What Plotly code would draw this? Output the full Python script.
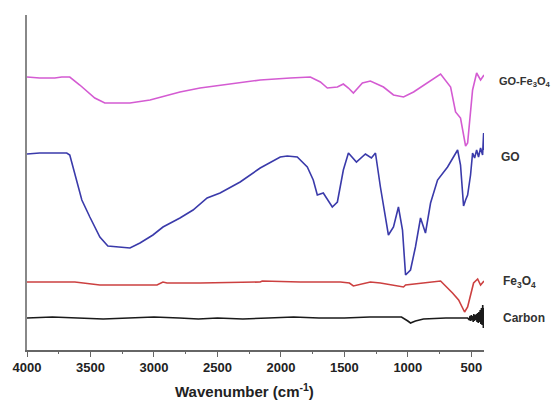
import plotly.graph_objects as go

# GO-Fe3O4 (magenta)
gofe_x = [4000, 3900, 3781, 3726, 3663, 3584, 3466, 3387, 3308, 3189, 3031, 2913, 2795, 2637, 2400,
          2163, 1926, 1768, 1689, 1634, 1555, 1508, 1468, 1429, 1358, 1295, 1192, 1113, 1034, 955,
          742, 719, 663, 624, 585, 545, 529, 490, 458, 427, 400]
gofe_y = [273, 272, 272, 273, 273, 265, 252, 247, 247, 247, 250, 254, 258, 262, 266,
          270, 272, 273, 268, 262, 263, 266, 262, 257, 267, 269, 263, 255, 253, 258,
          276, 272, 263, 238, 232, 204, 207, 260, 277, 270, 275]

# GO (blue)
go_x = [4000, 3900, 3781, 3687, 3663, 3623, 3568, 3505, 3426, 3363, 3268, 3189, 3110, 3008, 2929,
        2795, 2692, 2581, 2479, 2321, 2163, 2005, 1950, 1871, 1792, 1745, 1713, 1666, 1595, 1555,
        1508, 1468, 1405, 1334, 1287, 1255, 1216, 1153, 1113, 1074, 1042, 1018, 979, 940, 900,
        861, 821, 766, 687, 640, 608, 585, 561, 545, 529, 506, 490, 474, 458, 443, 427, 411, 403, 400]
go_y = [196, 197, 197, 197, 195, 177, 150, 133, 113, 104, 103, 102, 107, 115, 123,
        132, 140, 152, 157, 168, 182, 193, 194, 193, 183, 170, 155, 157, 143, 148,
        180, 197, 188, 196, 192, 197, 163, 115, 123, 143, 120, 75, 80, 103, 132,
        117, 147, 170, 183, 193, 200, 185, 144, 150, 155, 175, 197, 192, 200, 193, 202, 195, 217, 200]

# Fe3O4 (red)
fe_x = [4000, 3623, 3426, 2976, 2929, 2897, 2637, 2163, 2147, 1847, 1531, 1460, 1429, 1295, 1216,
        1034, 1018, 742, 648, 600, 553, 529, 482, 450, 427, 400]
fe_y = [68, 68, 65, 65, 68, 67, 67, 68, 69, 68, 68, 67, 64, 68, 67,
        63, 65, 69, 57, 50, 38, 43, 67, 71, 65, 69]

# Carbon (black)
c_x = [4000, 3800, 3600, 3400, 3200, 3000, 2800, 2650, 2500, 2300, 2100, 1900, 1700, 1500, 1300,
       1100, 1050, 1000, 979, 940, 877, 700, 529, 515, 510, 505, 500, 495, 490, 485, 480, 475,
       470, 465, 460, 455, 450, 445, 440, 435, 430, 425, 420, 415, 410, 405, 403, 400]
c_y = [32, 33, 32, 31, 32, 33, 32, 31, 32, 31, 32, 33, 32, 32, 33,
       33, 33, 29, 27, 29, 31, 32, 32, 30, 34, 29, 35, 30, 34, 28, 36, 29,
       35, 30, 36, 28, 37, 27, 38, 28, 40, 26, 42, 25, 45, 22, 42, 32]

tick_vals = [4000, 3500, 3000, 2500, 2000, 1500, 1000, 500]
tick_text = ["4000", "3500", "3000", "2500", "2000", "1500", "1000", "500"]
minor_vals = [3750, 3250, 2750, 2250, 1750, 1250, 750]

series = [
    (gofe_x, gofe_y, "#d45bd2", "GO-Fe<sub>3</sub>O<sub>4</sub>"),
    (go_x, go_y, "#3a3aaa", "GO"),
    (fe_x, fe_y, "#cc4040", "Fe<sub>3</sub>O<sub>4</sub>"),
    (c_x, c_y, "#1a1a1a", "Carbon"),
]

fig = go.Figure()
for xs, ys, col, name in series:
    fig.add_trace(go.Scatter(x=xs, y=ys, mode="lines", line=dict(color=col, width=1.6),
                             name=name, showlegend=False))

label_pos = [("<b>GO-Fe<sub>3</sub>O<sub>4</sub></b>", 268, 1.028, 11),
             ("<b>GO</b>", 193, 1.032, 12),
             ("<b>Fe<sub>3</sub>O<sub>4</sub></b>", 68, 1.038, 12),
             ("<b>Carbon</b>", 32, 1.038, 12)]
for txt, yv, xp, fs in label_pos:
    fig.add_annotation(x=xp, xref="paper", y=yv, yref="y", text=txt, showarrow=False,
                       xanchor="left", yanchor="middle",
                       font=dict(family="Liberation Sans, Arial", size=fs, color="#333333"))

# x-axis title (slightly left of centre, as in the reference)
fig.add_annotation(x=0.477, xref="paper", y=-0.12, yref="paper", showarrow=False,
                   xanchor="center", yanchor="middle",
                   text="<b>Wavenumber (cm<sup>-1</sup>)</b>",
                   font=dict(family="Liberation Sans, Arial", size=15, color="#222222"))

fig.update_layout(
    width=559, height=405,
    margin=dict(l=19, r=83, t=7, b=63),
    paper_bgcolor="white", plot_bgcolor="white",
    font=dict(family="Liberation Sans, Arial", color="#222222"),
    xaxis=dict(range=[4000, 400], showgrid=False, zeroline=False, automargin=False,
               showline=True, linecolor="#666666", linewidth=1.5,
               ticks="outside", ticklen=5, tickwidth=1.2, tickcolor="#666666",
               tickvals=tick_vals, ticktext=["<b>%s</b>" % t for t in tick_text],
               tickfont=dict(size=13, color="#222222"),
               minor=dict(tickvals=minor_vals, ticks="outside", ticklen=2, tickcolor="#666666")),
    yaxis=dict(range=[0, 335], showgrid=False, zeroline=False, showticklabels=False, automargin=False,
               showline=True, linecolor="#888888", linewidth=1.5, ticks=""),
)

fig.write_html("out.html")
